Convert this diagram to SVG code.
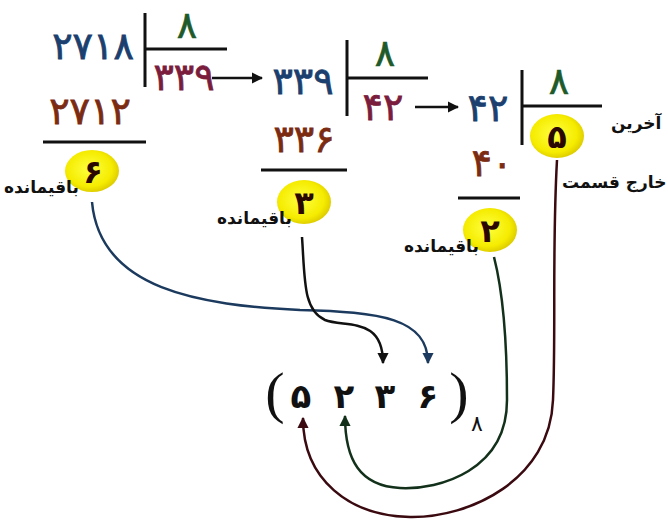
<svg xmlns="http://www.w3.org/2000/svg" width="668" height="521" viewBox="0 0 668 521">
<defs>
<radialGradient id="yg" cx="0.45" cy="0.45" r="0.6">
<stop offset="0" stop-color="#ffff40"/>
<stop offset="0.7" stop-color="#f5ec00"/>
<stop offset="1" stop-color="#d8c400"/>
</radialGradient>
<marker id="ahk" viewBox="0 0 10 10" refX="9" refY="5" markerWidth="4.5" markerHeight="4.5" orient="auto" markerUnits="strokeWidth"><path d="M0,0 L10,5 L0,10 z" fill="#111"/></marker>
<marker id="ahb" viewBox="0 0 10 10" refX="9" refY="5" markerWidth="4.5" markerHeight="4.5" orient="auto" markerUnits="strokeWidth"><path d="M0,0 L10,5 L0,10 z" fill="#1b3a5e"/></marker>
<marker id="ahg" viewBox="0 0 10 10" refX="9" refY="5" markerWidth="4.5" markerHeight="4.5" orient="auto" markerUnits="strokeWidth"><path d="M0,0 L10,5 L0,10 z" fill="#12301a"/></marker>
<marker id="ahr" viewBox="0 0 10 10" refX="9" refY="5" markerWidth="4.5" markerHeight="4.5" orient="auto" markerUnits="strokeWidth"><path d="M0,0 L10,5 L0,10 z" fill="#3a0a10"/></marker>
</defs>
<style>
.n{font-family:"DejaVu Sans",sans-serif;text-anchor:middle}
.big{font-size:38px;letter-spacing:2px}
.blue{fill:#1b3f6e;stroke:#1b3f6e;stroke-width:0.8}
.brown{fill:#7b2b12;stroke:#7b2b12;stroke-width:0.8}
.mag{fill:#7a1d3d;stroke:#7a1d3d;stroke-width:0.8}
.green{fill:#1e5a2a;stroke:#1e5a2a;stroke-width:0.6}
.ell{fill:url(#yg)}
.ed{font-size:32px;font-weight:bold;fill:#2a0800}
.lbl{font-family:"DejaVu Sans",sans-serif;font-weight:bold;font-size:17px;fill:#111}
.rule{stroke:#111;stroke-width:3;fill:none}
.arr{stroke:#111;stroke-width:2.5;fill:none}
.res{font-size:34px;font-weight:bold;fill:#111}
.par{font-family:"Liberation Serif",serif;font-size:58px;fill:#111;text-anchor:middle}
</style>
<rect width="668" height="521" fill="#ffffff"/>

<g id="step1">
<text class="n big blue" x="93" y="59">۲۷۱۸</text>
<path class="rule" d="M145,13 V87 M145,49 H227"/>
<text class="n big green" x="187" y="38">۸</text>
<text class="n big mag" x="184" y="90">۳۳۹</text>
<text class="n big brown" x="90" y="124">۲۷۱۲</text>
<path class="rule" d="M43,142 H146"/>
</g>

<g id="step2">
<text class="n big blue" x="303" y="94">۳۳۹</text>
<path class="rule" d="M347,40 V116 M347,78 H428"/>
<text class="n big green" x="385" y="66">۸</text>
<text class="n big mag" x="383" y="120">۴۲</text>
<text class="n big brown" x="304" y="152">۳۳۶</text>
<path class="rule" d="M261,170 H347"/>
</g>

<g id="step3">
<text class="n big blue" x="488" y="121">۴۲</text>
<path class="rule" d="M522,70 V145 M522,106 H602"/>
<text class="n big green" x="559" y="94">۸</text>
<text class="n big brown" x="492" y="176">۴۰</text>
<path class="rule" d="M458,198 H520"/>
</g>

<g id="rem1">
<ellipse class="ell" cx="92" cy="171" rx="27" ry="21"/>
<text class="n ed" x="93" y="183">۶</text>
<text class="lbl" x="4" y="193">باقیمانده</text>
</g>

<g id="rem2">
<ellipse class="ell" cx="304" cy="202" rx="27" ry="22"/>
<text class="n ed" x="304" y="214">۳</text>
<text class="lbl" x="217" y="224">باقیمانده</text>
</g>

<g id="rem3">
<ellipse class="ell" cx="490" cy="230" rx="27" ry="22"/>
<text class="n ed" x="490" y="242">۲</text>
<text class="lbl" x="404" y="252">باقیمانده</text>
</g>

<g id="quot">
<ellipse class="ell" cx="557" cy="136" rx="27" ry="22"/>
<text class="n ed" x="557" y="148">۵</text>
<text class="lbl" x="611" y="129">آخرین</text>
<text class="lbl" x="562" y="188">خارج قسمت</text>
</g>

<g id="result">
<text class="par" x="275" y="412">(</text>
<text class="n res" x="301" y="408">۵</text>
<text class="n res" x="344" y="408">۲</text>
<text class="n res" x="385" y="408">۳</text>
<text class="n res" x="428" y="408">۶</text>
<text class="par" x="459" y="412">)</text>
<text class="n" style="font-size:22px;fill:#111" x="477" y="431">۸</text>
</g>

<g id="connectors">
<path class="arr" d="M212,78 H262" marker-end="url(#ahk)"/>
<path class="arr" d="M415,107 H458" marker-end="url(#ahk)"/>
<path d="M92,202 C100,290 200,305 300,310 C380,312 428,318 428,363" stroke="#1b3a5e" stroke-width="2.5" fill="none" marker-end="url(#ahb)"/>
<path d="M302,237 C305,280 303,310 325,320 C345,328 383,316 383,363" stroke="#111" stroke-width="2.5" fill="none" marker-end="url(#ahk)"/>
<path d="M494,257 C505,300 507,350 507,400 C507,470 440,490 400,488 C360,486 345,460 345,416" stroke="#12301a" stroke-width="2.5" fill="none" marker-end="url(#ahg)"/>
<path d="M557,160 C552,250 556,330 553,400 C550,480 470,518 410,517 C350,516 303,480 303,418" stroke="#3a0a10" stroke-width="2.5" fill="none" marker-end="url(#ahr)"/>
</g>
</svg>
